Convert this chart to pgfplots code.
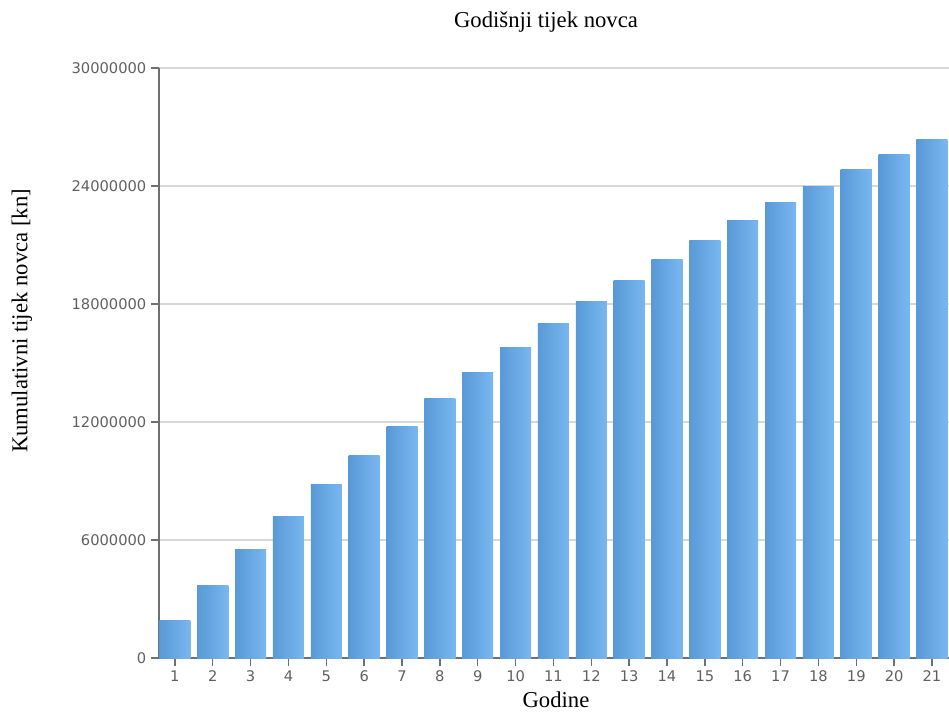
\documentclass[border=0pt]{standalone}
\usepackage{fontspec}
\setmainfont{Liberation Serif}
\newfontfamily\tickfont{DejaVu Sans}
\usepackage{pgfplots}
\pgfplotsset{compat=1.18}

\definecolor{barleft}{RGB}{88,153,215}
\definecolor{barright}{RGB}{121,183,240}
\definecolor{axisgray}{RGB}{112,112,112}
\definecolor{gridgray}{RGB}{216,216,216}
\definecolor{ticktext}{RGB}{96,96,96}

% one bar per plot, so every bar gets its own left-to-right shading
\pgfplotsset{
  godbar/.style={ybar, bar width=0.82, bar shift=0pt, draw=none,
    left color=barleft, right color=barright},
  every axis title shift=0pt,
}

\begin{document}
\begin{tikzpicture}
  \begin{axis}[
      name=ax,
      scale only axis,
      width=592.5pt, height=442.5pt,
      xmin=0.58, xmax=21.45,
      ymin=0, ymax=30000000,
      enlargelimits=false,
      axis x line*=bottom,
      axis y line*=left,
      axis line style={axisgray, line width=1pt},
      xtick={1,...,21},
      ytick={0,6000000,12000000,18000000,24000000,30000000},
      yticklabels={0,6000000,12000000,18000000,24000000,30000000},
      scaled y ticks=false,
      tick align=outside,
      major tick length=6pt,
      tick style={axisgray, line width=1pt},
      ymajorgrids,
      grid style={gridgray, line width=0.9pt},
      /pgf/number format/assume math mode=true,
      ticklabel style={font=\tickfont\fontsize{11}{13}\selectfont, text=ticktext},
      title={Godišnji tijek novca},
      title style={font=\fontsize{17}{20}\selectfont, at={(axis description cs:0.4899,1.078)}, anchor=center},
      xlabel={Godine},
      xlabel style={font=\fontsize{17}{20}\selectfont, at={(axis description cs:0.5025,-0.0712)}, anchor=center},
      ylabel={Kumulativni tijek novca [kn]},
      ylabel style={font=\fontsize{17}{20}\selectfont, at={(axis description cs:-0.1734,0.5712)}, anchor=center},
    ]
    \addplot[godbar] coordinates {(1, 1900000)};
    \addplot[godbar] coordinates {(2, 3710000)};
    \addplot[godbar] coordinates {(3, 5540000)};
    \addplot[godbar] coordinates {(4, 7220000)};
    \addplot[godbar] coordinates {(5, 8800000)};
    \addplot[godbar] coordinates {(6, 10320000)};
    \addplot[godbar] coordinates {(7, 11760000)};
    \addplot[godbar] coordinates {(8, 13200000)};
    \addplot[godbar] coordinates {(9, 14510000)};
    \addplot[godbar] coordinates {(10, 15800000)};
    \addplot[godbar] coordinates {(11, 17020000)};
    \addplot[godbar] coordinates {(12, 18150000)};
    \addplot[godbar] coordinates {(13, 19220000)};
    \addplot[godbar] coordinates {(14, 20270000)};
    \addplot[godbar] coordinates {(15, 21250000)};
    \addplot[godbar] coordinates {(16, 22270000)};
    \addplot[godbar] coordinates {(17, 23170000)};
    \addplot[godbar] coordinates {(18, 24000000)};
    \addplot[godbar] coordinates {(19, 24850000)};
    \addplot[godbar] coordinates {(20, 25610000)};
    \addplot[godbar] coordinates {(21, 26340000)};
  \end{axis}
  \pgfresetboundingbox
  \path[use as bounding box] ([shift={(-119.25pt,-42.75pt)}]ax.south west) rectangle ++(711.75pt,536.25pt);
\end{tikzpicture}
\end{document}
